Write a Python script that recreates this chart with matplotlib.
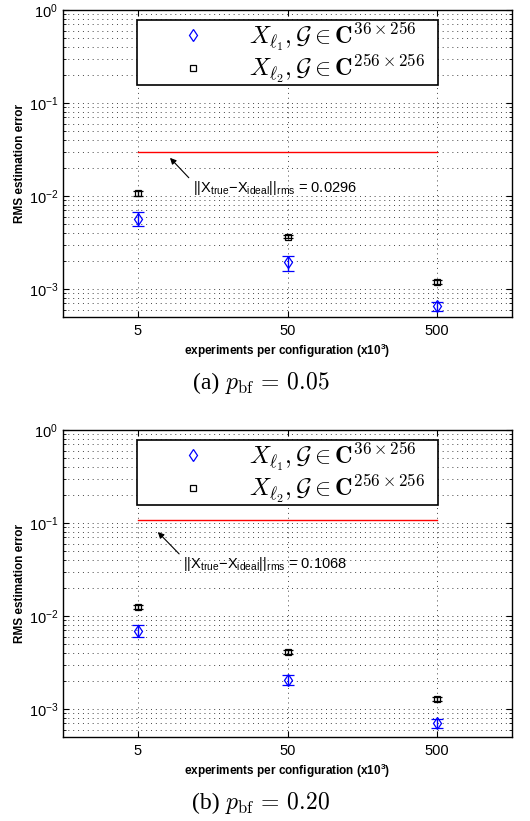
import numpy as np
import matplotlib
matplotlib.use("Agg")
import matplotlib.pyplot as plt
from matplotlib.ticker import FixedLocator, NullLocator, LogLocator, FixedFormatter
from matplotlib.lines import Line2D

plt.rcParams['font.family'] = ['Liberation Sans', 'DejaVu Sans']
plt.rcParams['mathtext.fontset'] = 'custom'
plt.rcParams['mathtext.rm'] = 'Liberation Sans'
plt.rcParams['mathtext.it'] = 'Liberation Sans:italic'
plt.rcParams['mathtext.bf'] = 'Liberation Sans:bold'

# data
experiments = [5, 50, 500]
xtick_labels = ['5', '50', '500']

l1_a = [0.0056, 0.00194, 0.00065]
l1_a_lo = [0.0047, 0.00158, 0.00058]
l1_a_hi = [0.0067, 0.00226, 0.00073]
l2_a = [0.0107, 0.00366, 0.00120]
l2_a_lo = [0.0101, 0.00350, 0.00114]
l2_a_hi = [0.0113, 0.00382, 0.00126]
ideal_a = 0.0296

l1_b = [0.00695, 0.00205, 0.00070]
l1_b_lo = [0.0060, 0.00180, 0.00062]
l1_b_hi = [0.0080, 0.00233, 0.00078]
l2_b = [0.0125, 0.00410, 0.00127]
l2_b_lo = [0.0119, 0.00393, 0.00121]
l2_b_hi = [0.0131, 0.00427, 0.00133]
ideal_b = 0.1068

legend_labels = [r'$X_{\ell_1}, \mathcal{G} \in \mathbf{C}^{36\times 256}$',
                 r'$X_{\ell_2}, \mathcal{G} \in \mathbf{C}^{256\times 256}$']
captions = [r'$p_{\mathrm{bf}}\, =\, 0.05$', r'$p_{\mathrm{bf}}\, =\, 0.20$']
caption_prefix = ['(a) ', '(b) ']

W, H = 530, 821
fig = plt.figure(figsize=(W / 100, H / 100), dpi=100)

def px_axes(left, top, right, bottom):
    return fig.add_axes([left / W, 1 - bottom / H, (right - left) / W, (bottom - top) / H])

panels = [
    dict(top=10, bottom=317, l1=l1_a, l1lo=l1_a_lo, l1hi=l1_a_hi, l2=l2_a, l2lo=l2_a_lo, l2hi=l2_a_hi,
         ideal=ideal_a, tip=(8.2, 0.0257), txt=(11.6, 0.0122), cap_y=383),
    dict(top=430, bottom=737, l1=l1_b, l1lo=l1_b_lo, l1hi=l1_b_hi, l2=l2_b, l2lo=l2_b_lo, l2hi=l2_b_hi,
         ideal=ideal_b, tip=(6.8, 0.080), txt=(10.0, 0.0362), cap_y=803),
]

grid_ls = (0, (1, 4))

for i, p in enumerate(panels):
    ax = px_axes(63, p['top'], 512, p['bottom'])
    ax.set_xscale('log')
    ax.set_yscale('log')
    ax.set_xlim(5 / np.sqrt(10), 500 * np.sqrt(10))
    ax.set_ylim(5e-4, 1)

    x = np.array(experiments, dtype=float)
    l1 = np.array(p['l1']); l2 = np.array(p['l2'])
    e1 = [l1 - np.array(p['l1lo']), np.array(p['l1hi']) - l1]
    e2 = [l2 - np.array(p['l2lo']), np.array(p['l2hi']) - l2]
    ax.errorbar(x, l1, yerr=e1, fmt='d', mfc='none', mec='blue', ecolor='blue',
                ms=6.5, mew=0.9, elinewidth=1.0, capsize=4, capthick=1.0, zorder=3)
    ax.errorbar(x, l2, yerr=e2, fmt='s', mfc='none', mec='black', ecolor='black',
                ms=4.5, mew=0.9, elinewidth=1.0, capsize=3.5, capthick=1.0, zorder=3)
    ax.plot([x[0], x[-1]], [p['ideal'], p['ideal']], color='red', lw=1.0, zorder=2)

    ax.xaxis.set_major_locator(FixedLocator(experiments))
    ax.xaxis.set_major_formatter(FixedFormatter(xtick_labels))
    ax.xaxis.set_minor_locator(NullLocator())
    ax.yaxis.set_major_locator(LogLocator(base=10, numticks=10))
    ax.yaxis.set_minor_locator(LogLocator(base=10, subs=np.arange(2, 10), numticks=20))
    ax.yaxis.set_minor_formatter(plt.NullFormatter())

    ax.grid(True, which='major', axis='both', color='#444444', linestyle=grid_ls, lw=0.7)
    ax.grid(True, which='minor', axis='y', color='#444444', linestyle=grid_ls, lw=0.7)
    ax.tick_params(which='both', direction='in', top=True, right=True, labelsize=10.5)
    ax.tick_params(which='major', length=4, width=0.8)
    ax.tick_params(which='minor', length=2, width=0.6)
    ax.tick_params(axis='x', pad=5)
    for s in ax.spines.values():
        s.set_linewidth(1.0)

    ax.set_xlabel(r'experiments per configuration (x10$^{\mathbf{3}}$)', fontsize=8.5,
                  fontweight='bold', labelpad=3)
    ax.set_ylabel('RMS estimation error', fontsize=8.5, fontweight='bold', labelpad=2)

    # annotation
    ax.annotate('||X$_{\\mathrm{true}}$\u2212X$_{\\mathrm{ideal}}$||$_{\\mathrm{rms}}$ = %.4f' % p['ideal'],
                xy=p['tip'], xytext=p['txt'], fontsize=10.5,
                ha='left', va='center',
                arrowprops=dict(arrowstyle='-|>', color='black', lw=0.8,
                                mutation_scale=9, shrinkA=1, shrinkB=0,
                                relpos=(0.0, 0.85)))

    handles = [Line2D([], [], ls='none', marker='d', mfc='none', mec='blue', ms=6.5, mew=0.9),
               Line2D([], [], ls='none', marker='s', mfc='none', mec='black', ms=4.5, mew=0.9)]
    leg = ax.legend(handles, legend_labels, loc='upper left',
                    bbox_to_anchor=(0.165, 0.967, 0.67, 0.0), mode='expand',
                    handlelength=4.6, handletextpad=0.0, borderpad=0.0,
                    labelspacing=0.0, borderaxespad=0, fancybox=False, framealpha=1,
                    edgecolor='black', prop=dict(size=17.5, math_fontfamily='cm'))
    leg.get_frame().set_linewidth(1.2)

    fig.text(225 / W, 1 - p['cap_y'] / H, caption_prefix[i], fontsize=17,
             family='Liberation Serif', ha='right', va='center')
    fig.text(225 / W, 1 - p['cap_y'] / H, captions[i], fontsize=17,
             math_fontfamily='cm', ha='left', va='center')

fig.savefig('out.png', dpi=100)
